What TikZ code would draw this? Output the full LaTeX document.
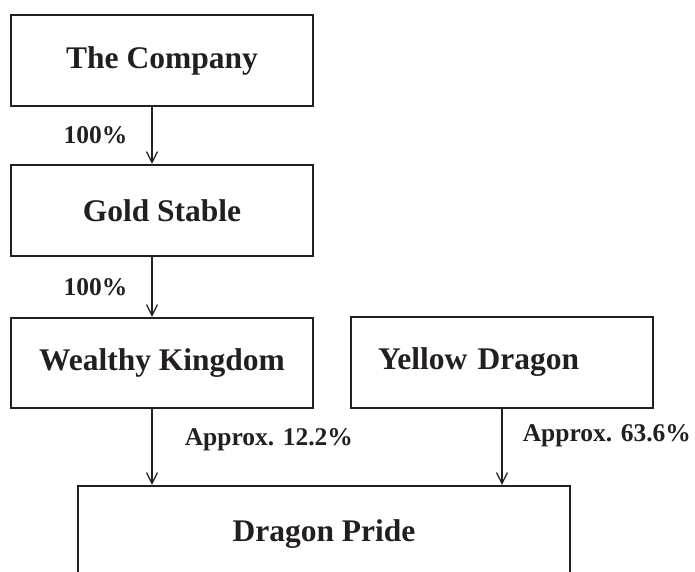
\documentclass[tikz,border=0pt]{standalone}
\usepackage{fontspec}
\setmainfont{Liberation Serif}
\usetikzlibrary{arrows.meta}
\definecolor{inkBlack}{RGB}{35,31,32}

\tikzset{
  ownerBox/.style={draw=inkBlack,line width=2.2pt,text=inkBlack,
    font=\fontsize{31.5}{38}\selectfont\bfseries,inner sep=0pt},
  shareArrow/.style={draw=inkBlack,line width=1.5pt,
    -{Straight Barb[length=11pt,width=11pt,line width=1.2pt]}},
  shareLabel/.style={text=inkBlack,inner sep=2pt,
    font=\fontsize{25.5}{30}\selectfont\bfseries}
}

\begin{document}
\begin{tikzpicture}[x=1pt,y=-1pt]
\pgfmathsetmacro{\boxWidth}{302}
\pgfmathsetmacro{\boxHeight}{91}
\pgfmathsetmacro{\arrowShift}{10}
\useasboundingbox (0,0) rectangle (695,571);
\clip (0,0) rectangle (695,571);

% Holding chain on the left
\node[ownerBox,minimum width=\boxWidth,minimum height=\boxHeight]
  (company) at (162,60.5) {The Company};
\node[ownerBox,minimum width=\boxWidth,minimum height=\boxHeight]
  (goldStable) at (162,210.5) {Gold Stable};
\node[ownerBox,minimum width=\boxWidth,minimum height=90]
  (wealthyKingdom) at (162,363) {Wealthy Kingdom};

% Second shareholder, text sits left in its box
\node[ownerBox,minimum height=\boxHeight,inner xsep=27pt,
  text width=248pt,align=left] (yellowDragon) at (502,362.5) {Yellow Dragon};

% Bottom box runs past the lower edge
\node[ownerBox,minimum width=492,minimum height=96]
  (dragonPride) at (324,534) {Dragon Pride};

% Shareholdings
\draw[shareArrow] ([xshift=-\arrowShift]company.south)
  -- node[shareLabel,midway,left=22pt] {100\%}
  ([xshift=-\arrowShift]goldStable.north);
\draw[shareArrow] ([xshift=-\arrowShift]goldStable.south)
  -- node[shareLabel,midway,left=22pt] {100\%}
  ([xshift=-\arrowShift]wealthyKingdom.north);
\draw[shareArrow] ([xshift=-\arrowShift]wealthyKingdom.south)
  -- node[shareLabel,pos=0.4,right=30pt] {Approx. 12.2\%}
  ([xshift=-\arrowShift]wealthyKingdom.south |- dragonPride.north);
\draw[shareArrow] (yellowDragon.south)
  -- node[shareLabel,pos=0.35,right=18pt] {Approx. 63.6\%}
  (yellowDragon.south |- dragonPride.north);
\end{tikzpicture}
\end{document}
